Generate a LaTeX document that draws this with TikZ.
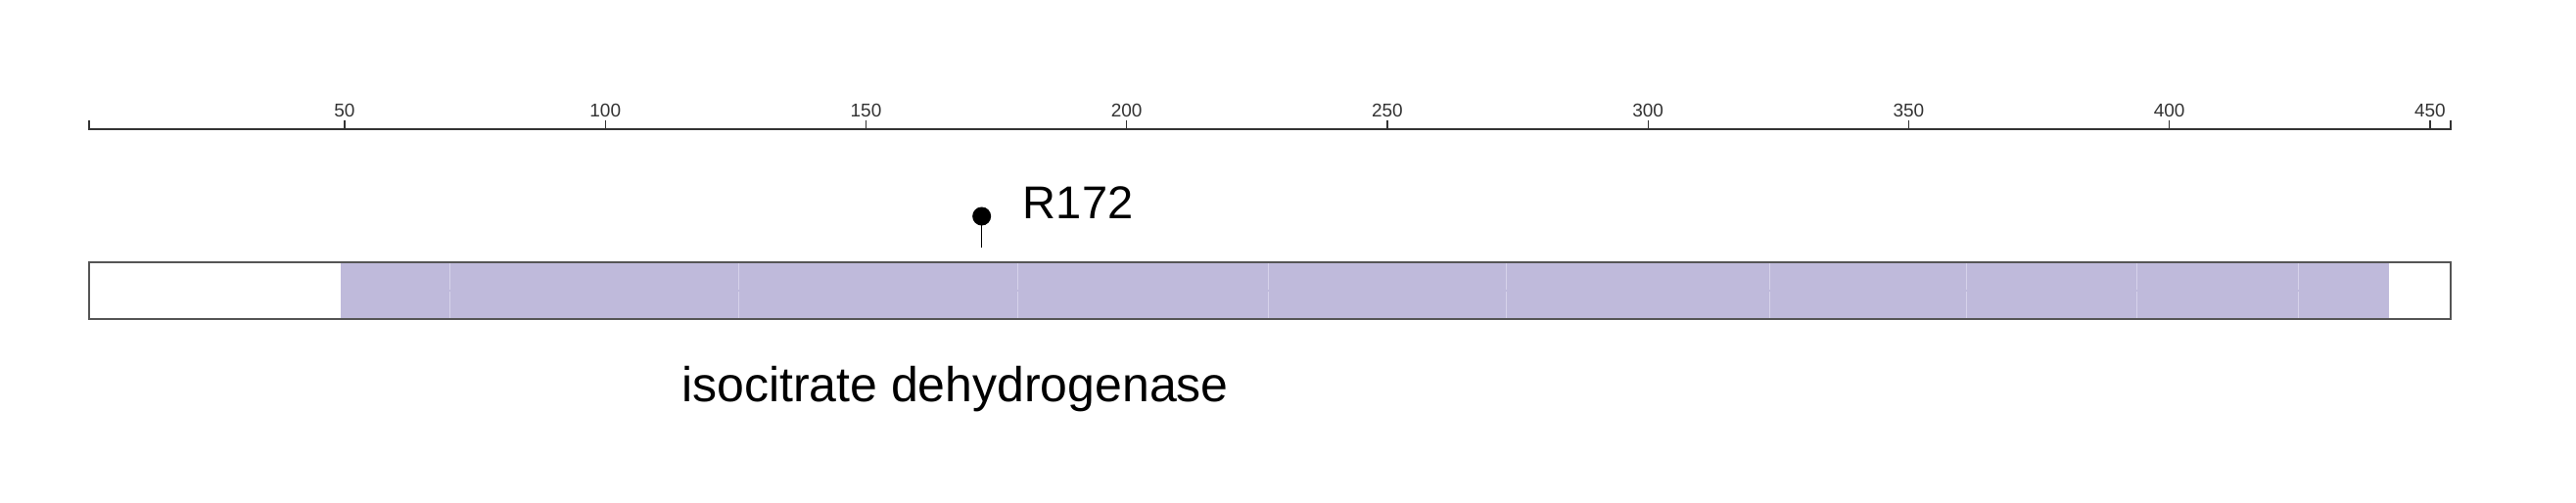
\documentclass[tikz,border=0pt]{standalone}
\usepackage{fontspec}
\setmainfont{Liberation Sans}
\usepackage{tikz}
\definecolor{domainfill}{HTML}{BFBADB}
\definecolor{domainline}{HTML}{D6D2EA}
\definecolor{axisgray}{HTML}{333333}
\definecolor{bargray}{HTML}{555555}

\begin{document}
\begin{tikzpicture}[x=5.325pt, y=-1pt,
    tick/.style={axisgray, line width=1.3pt},
    endtick/.style={axisgray, line width=2.4pt},
    ticklabel/.style={anchor=base, inner sep=0pt, text=axisgray,
        font=\fontsize{19}{19}\selectfont},
  ]
    % Canvas
    \useasboundingbox (-16.103,0) rectangle (478.0,514);

    % Ruler
    \draw[axisgray, line width=1.6pt] (1,132) -- (454,132);
    \draw[endtick] (1,123) -- (1,132.8);
    \draw[endtick] (454,123) -- (454,132.8);
    \foreach \p in {50,100,...,450} {
        \draw[tick] (\p,123) -- (\p,132);
        \node[ticklabel] (t\p) at (\p,120) {\p};
    }

    % Protein bar with domain
    \fill[domainfill] (49.2,268) rectangle (442.1,326);
    \foreach \s in {70.2,125.5,179.1,227.1,272.9,323.4,361.0,393.7,424.8} {
        \draw[domainline, line width=1pt] (\s,269) -- (\s,296) (\s,298) -- (\s,325);
    }
    \draw[bargray, line width=2pt] (1,268) rectangle (454,326);

    % Mutation
    \node[circle, fill=black, inner sep=0pt, minimum size=19pt] (mut) at (172.2,221) {};
    \coordinate (mutfoot) at (172.2,253);
    \draw[line width=1.5pt] (mut.center) -- (mutfoot);
    \node[anchor=base west, inner sep=0pt, font=\fontsize{47}{47}\selectfont] (mutlabel) at (180.1,224) {R172};

    % Domain label
    \node[anchor=base west, inner sep=0pt, font=\fontsize{50}{50}\selectfont] (domain) at (114.6,411) {isocitrate dehydrogenase};
\end{tikzpicture}
\end{document}
